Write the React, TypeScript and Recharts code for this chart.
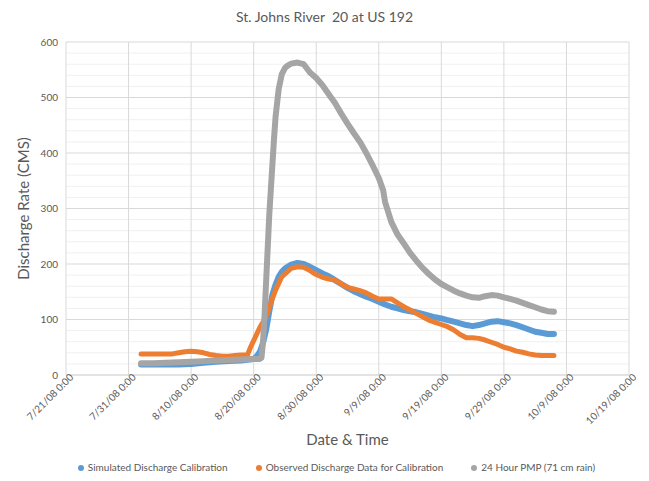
import { LineChart, Line, XAxis, YAxis, CartesianGrid, Legend } from 'recharts';

// x values are days after 7/21/08 0:00
const tickDays = [0, 10, 20, 30, 40, 50, 60, 70, 80, 90];
const tickLabels = [
  '7/21/08 0:00', '7/31/08 0:00', '8/10/08 0:00', '8/20/08 0:00', '8/30/08 0:00',
  '9/9/08 0:00', '9/19/08 0:00', '9/29/08 0:00', '10/9/08 0:00', '10/19/08 0:00',
];
const yMajor = [0, 100, 200, 300, 400, 500, 600];
const yMinor = [20, 40, 60, 80, 120, 140, 160, 180, 220, 240, 260, 280, 320, 340, 360, 380, 420, 440, 460, 480, 520, 540, 560, 580];
const seriesNames = ['Simulated Discharge Calibration', 'Observed Discharge Data for Calibration', '24 Hour PMP (71 cm rain)'];

const simDays = [12, 14, 16, 18, 20, 22, 24, 26, 28, 30, 30.5, 31, 31.5, 32, 32.5, 33, 33.5, 34, 34.5, 35, 36, 37, 38, 39, 40, 41, 42, 43, 44, 45, 46, 47, 48, 49, 50, 51, 52, 53, 54, 55, 56, 57, 58, 59, 60, 61, 62, 63, 64, 65, 66, 67, 68, 69, 70, 71, 72, 73, 74, 75, 76, 77, 78];
const simValues = [19, 19, 19, 19, 20, 22, 24, 25, 26, 29, 34, 42, 58, 82, 115, 145, 163, 177, 186, 192, 199, 202, 200, 195, 189, 183, 178, 171, 164, 157, 151, 146, 141, 137, 132, 127, 123, 120, 117, 115, 113, 110, 107, 104, 102, 99, 96, 93, 90, 88, 90, 93, 96, 97, 95, 93, 90, 86, 82, 78, 76, 74, 74];

const obsDays = [12, 14, 16, 17, 18, 19, 20, 21, 22, 23, 24, 25, 26, 27, 28, 29, 29.5, 30, 31, 32, 32.5, 33, 33.5, 34, 34.5, 35, 36, 37, 38, 39, 40, 41, 42, 43, 44, 45, 46, 47, 48, 49, 50, 51, 52, 53, 54, 55, 56, 57, 58, 59, 60, 61, 62, 63, 64, 65, 66, 67, 68, 69, 70, 71, 72, 73, 74, 75, 76, 77, 78];
const obsValues = [38, 38, 38, 38, 40, 42, 43, 42, 40, 37, 35, 34, 34, 35, 36, 36, 50, 62, 86, 105, 122, 138, 153, 165, 177, 182, 192, 195, 194, 188, 181, 176, 173, 171, 164, 158, 155, 152, 148, 142, 137, 137, 137, 130, 123, 117, 111, 105, 99, 95, 91, 87, 81, 73, 67, 67, 66, 63, 59, 55, 50, 47, 43, 41, 38, 36, 35, 35, 35];

const pmpDays = [12, 14, 16, 18, 20, 22, 24, 26, 28, 30, 31, 31.25, 31.5, 31.75, 32, 32.25, 32.5, 32.75, 33, 33.25, 33.5, 34, 34.5, 35, 35.5, 36, 37, 38, 39, 40, 41, 42, 43, 44, 45, 46, 47, 48, 49, 50, 50.7, 51, 52, 53, 54, 55, 56, 57, 58, 59, 60, 61, 62, 63, 64, 65, 66, 67, 68, 69, 70, 71, 72, 73, 74, 75, 76, 77, 78];
const pmpValues = [21, 21, 22, 23, 24, 25, 26, 27, 28, 29, 29, 31, 60, 110, 170, 230, 290, 335, 380, 425, 465, 515, 542, 553, 558, 561, 563, 560, 545, 535, 522, 506, 490, 471, 453, 436, 420, 400, 378, 355, 333, 312, 276, 253, 237, 220, 206, 193, 182, 172, 164, 158, 152, 147, 143, 140, 139, 142, 144, 143, 140, 137, 134, 130, 126, 122, 118, 115, 114];

const toRows = (days: number[], values: number[]) => days.map((day, i) => ({ day, value: values[i] }));
const simData = toRows(simDays, simValues);
const obsData = toRows(obsDays, obsValues);
const pmpData = toRows(pmpDays, pmpValues);

const FONT = 'Lato, "Open Sans", sans-serif';
const TEXT = '#595959';

function DateTick(props: any) {
  const { x, y, payload } = props;
  const label = tickLabels[tickDays.indexOf(payload.value)] ?? '';
  const px = x + 8;
  const py = y - 5;
  return (
    <text
      x={px}
      y={py}
      transform={`rotate(-45, ${px}, ${py})`}
      textAnchor="end"
      fill={TEXT}
      fontSize={10}
      fontFamily={FONT}
    >
      {label}
    </text>
  );
}

export default function App() {
  return (
    <div style={{ position: 'absolute', left: 0, top: 0, width: 649, height: 481, fontFamily: FONT, background: '#fff' }}>
      <div style={{ position: 'absolute', top: 8, width: 649, textAlign: 'center', fontSize: 14, color: TEXT }}>
        St. Johns River&nbsp; 20 at US 192
      </div>
      <LineChart width={649} height={481} margin={{ top: 42, right: 20, left: 0, bottom: 0 }}>
        <CartesianGrid horizontalValues={yMinor} vertical={false} stroke="#f0f0f0" />
        <CartesianGrid horizontalValues={yMajor} verticalValues={tickDays} stroke="#d9d9d9" />
        <XAxis
          type="number"
          dataKey="day"
          domain={[0, 90]}
          ticks={tickDays}
          interval={0}
          tick={<DateTick />}
          tickLine={false}
          axisLine={{ stroke: '#d9d9d9' }}
          height={86}
          allowDataOverflow
          label={{ value: 'Date & Time', position: 'insideBottom', offset: 16, fill: TEXT, fontSize: 15, fontFamily: FONT }}
        />
        <YAxis
          type="number"
          domain={[0, 600]}
          ticks={yMajor}
          interval={0}
          width={66}
          tick={{ fill: TEXT, fontSize: 10, fontFamily: FONT }}
          tickLine={false}
          axisLine={false}
          label={{ value: 'Discharge Rate (CMS)', angle: -90, position: 'center', dx: -9, fill: TEXT, fontSize: 15, fontFamily: FONT }}
        />
        <Legend
          height={20}
          verticalAlign="bottom"
          iconType="circle"
          iconSize={6}
          itemSorter={(item: any) => seriesNames.indexOf(item.value)}
          wrapperStyle={{ fontSize: 10, fontFamily: FONT, paddingLeft: 36 }}
          formatter={(value: string) => <span style={{ color: TEXT, marginRight: 18 }}>{value}</span>}
        />
        <Line data={simData} dataKey="value" name={seriesNames[0]} stroke="#5b9bd5" strokeWidth={6} strokeLinecap="round" strokeLinejoin="round" dot={false} activeDot={false} isAnimationActive={false} type="linear" />
        <Line data={obsData} dataKey="value" name={seriesNames[1]} stroke="#ed7d31" strokeWidth={5} strokeLinecap="round" strokeLinejoin="round" dot={false} activeDot={false} isAnimationActive={false} type="linear" />
        <Line data={pmpData} dataKey="value" name={seriesNames[2]} stroke="#a5a5a5" strokeWidth={6} strokeLinecap="round" strokeLinejoin="round" dot={false} activeDot={false} isAnimationActive={false} type="linear" />
      </LineChart>
    </div>
  );
}
